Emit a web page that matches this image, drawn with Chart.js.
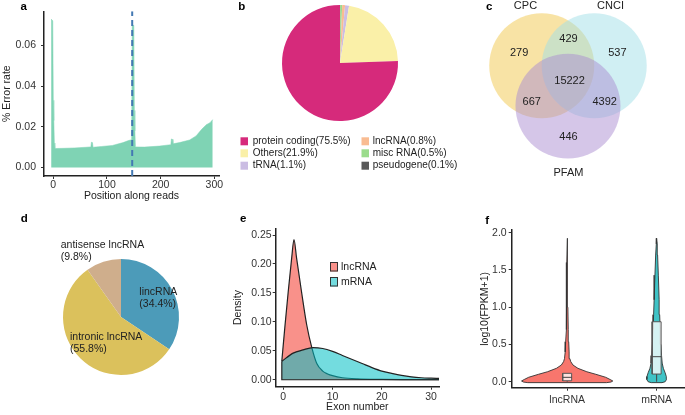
<!DOCTYPE html>
<html>
<head>
<meta charset="utf-8">
<script src="https://cdn.jsdelivr.net/npm/chart.js@4.4.1/dist/chart.umd.min.js"></script>
<style>
  body { margin: 0; width: 685px; height: 415px; position: relative; overflow: hidden; background: #fff; }
  canvas { position: absolute; }
</style>
</head>
<body>
<canvas id="chartA" width="230" height="205" style="left:0;top:0"></canvas>
<canvas id="chartB" width="230" height="205" style="left:230px;top:0"></canvas>
<canvas id="chartC" width="225" height="205" style="left:460px;top:0"></canvas>
<canvas id="chartD" width="230" height="210" style="left:0;top:205px"></canvas>
<canvas id="chartE" width="230" height="210" style="left:230px;top:205px"></canvas>
<canvas id="chartF" width="225" height="210" style="left:460px;top:205px"></canvas>
<script>
// ---- panel a: error rate along reads
const readPos = [-4, -1, 0, 1, 2, 3, 20, 40, 60, 70, 71, 73, 74, 90, 110, 130, 140, 146, 147, 150, 151, 152, 153, 170, 198, 219, 220, 222, 223, 235, 254, 266, 276, 285, 292, 297];
const errorRate = [0.0729, 0.072, 0.033, 0.023, 0.012, 0.0093, 0.0094, 0.0096, 0.0099, 0.0101, 0.0124, 0.0122, 0.0099, 0.0103, 0.0108, 0.0122, 0.0132, 0.0136, 0.0698, 0.0698, 0.028, 0.018, 0.0101, 0.0100, 0.0105, 0.0112, 0.014, 0.0138, 0.0116, 0.0122, 0.0135, 0.0155, 0.0186, 0.021, 0.022, 0.0235];
const readSplit = 147;
const ticksAx = [0, 100, 200, 300];
const ticksAy = [0, 0.02, 0.04, 0.06];

// ---- panel b: read types
const bTypes = ['protein coding', 'Others', 'tRNA', 'lncRNA', 'misc RNA', 'pseudogene'];
const bShares = [75.5, 21.9, 1.1, 0.8, 0.5, 0.1];
const bColors = ['#d62a7b', '#faf0a8', '#cbbde3', '#f9bc92', '#9bdc8c', '#595959'];

// ---- panel c: venn
const vennSets = ['CPC', 'CNCI', 'PFAM'];
const vennCx = [-0.5, 0.5, 0];
const vennCy = [0, 0, -0.77];
const vennR = 1;
const vennNameX = [-0.81, 0.81, 0.01];
const vennNameY = [1.14, 1.14, -2.04];
const vennCounts = [279, 429, 537, 15222, 667, 4392, 446];
const vennCountX = [-0.93, 0.01, 0.94, 0.03, -0.69, 0.70, 0.01];
const vennCountY = [0.25, 0.50, 0.25, -0.29, -0.69, -0.69, -1.36];

// ---- panel d: lncRNA classes
const dTypes = ['lincRNA', 'intronic lncRNA', 'antisense lncRNA'];
const dShares = [34.4, 55.8, 9.8];
const dColors = ['#4c9bb9', '#dbc15c', '#cfae8c'];

// ---- panel e: exon number density
const exonLnc = [-0.3, 0.35, 1.0, 1.7, 2.17, 2.7, 3.7, 4.75, 5.8, 6.8, 8, 9, 10, 12, 15, 20, 25, 31.6];
const densLnc = [0.032, 0.094, 0.152, 0.21, 0.242, 0.21, 0.152, 0.095, 0.055, 0.028, 0.015, 0.01, 0.007, 0.0035, 0.0015, 0.0005, 0.0002, 0.0001];
const exonMrna = [-0.3, 2, 4, 6, 8, 10, 12, 14, 16, 18, 20, 22, 24, 26, 28, 30, 31.6];
const densMrna = [0.032, 0.046, 0.0515, 0.0555, 0.054, 0.049, 0.042, 0.035, 0.028, 0.021, 0.015, 0.011, 0.0075, 0.005, 0.0035, 0.0028, 0.0024];
const ticksEx = [0, 10, 20, 30];
const ticksEy = [0, 0.05, 0.10, 0.15, 0.20, 0.25];

// ---- panel f: expression violins
const groups = ['lncRNA', 'mRNA'];
const lncLevel = [-0.012, -0.004, 0.01, 0.03, 0.06, 0.10, 0.134, 0.18, 0.224, 0.27, 0.31, 0.4, 0.537, 0.7, 1.0, 1.3, 1.6, 1.925];
const lncHalf = [0.44, 0.49, 0.51, 0.48, 0.43, 0.32, 0.22, 0.12, 0.065, 0.04, 0.03, 0.022, 0.017, 0.012, 0.008, 0.006, 0.004, 0];
const mrnaLevel = [-0.012, 0.0, 0.03, 0.07, 0.12, 0.18, 0.25, 0.35, 0.5, 0.7, 0.9, 1.1, 1.43, 1.7, 1.85, 1.925];
const mrnaHalf = [0.06, 0.095, 0.11, 0.108, 0.095, 0.075, 0.062, 0.055, 0.048, 0.04, 0.034, 0.028, 0.019, 0.011, 0.007, 0];
const boxQ1 = [0.013, 0.103];
const boxMed = [0.059, 0.336];
const boxQ3 = [0.113, 0.805];
const whiskLo = [0.0, 0.0];
const ticksFy = [0, 0.5, 1.0, 1.5, 2.0];

const FONT = '"Liberation Sans", Arial, Helvetica, sans-serif';
const RED = '#f8766d';
const TEAL = '#3fc3c6';
Chart.defaults.font.family = FONT;
Chart.defaults.font.size = 10.5;
Chart.defaults.color = '#333';
Chart.defaults.plugins.legend.display = false;
Chart.defaults.plugins.tooltip.enabled = false;

const base = { responsive: false, animation: false, devicePixelRatio: 1, events: [] };

function font(size, bold) {
  return (bold ? 'bold ' : '') + size + 'px ' + FONT;
}

// draws text and swatches; x/y are canvas pixels, or data values when inData is set
function makeNotes(items, boxes) {
  return {
    id: 'notes',
    afterDatasetsDraw(chart) {
      const ctx = chart.ctx;
      ctx.save();
      (boxes || []).forEach((b) => {
        ctx.fillStyle = b.color;
        ctx.fillRect(b.x, b.y, b.w, b.h);
        if (b.stroke) {
          ctx.strokeStyle = b.stroke;
          ctx.lineWidth = 1;
          ctx.strokeRect(b.x + 0.5, b.y + 0.5, b.w - 1, b.h - 1);
        }
      });
      items.forEach((t) => {
        let x = t.x, y = t.y;
        if (t.inData) {
          x = chart.scales.x.getPixelForValue(t.x);
          y = chart.scales.y.getPixelForValue(t.y);
        }
        ctx.font = t.font || font(10.5);
        ctx.fillStyle = t.color || '#222';
        ctx.textAlign = t.align || 'left';
        ctx.textBaseline = t.baseline || 'middle';
        ctx.fillText(t.text, x, y);
      });
      ctx.restore();
    }
  };
}

function axis(pos, min, max, ticks, fmt, o) {
  return {
    type: 'linear', position: pos, min: min, max: max,
    afterBuildTicks: (s) => { s.ticks = ticks.map((v) => ({ value: v })); },
    afterFit: (s) => { if (pos === 'left') s.width = o.size; else s.height = o.size; },
    grid: { drawOnChartArea: false, drawTicks: true, tickLength: 3, color: '#333', lineWidth: 1 },
    border: { display: true, color: '#222', width: 1.5 },
    ticks: { padding: o.pad, autoSkip: false, maxRotation: 0, color: '#333', font: { size: 10.5 }, callback: (v) => fmt(v) },
    title: o.title
      ? { display: true, text: o.title, color: '#222', font: { size: 10.5, lineHeight: 1 }, padding: { top: o.titlePad, bottom: o.titlePad } }
      : { display: false }
  };
}

function pts(xs, ys) {
  return xs.map((x, i) => ({ x: x, y: ys[i] }));
}

// ---------- a
new Chart(document.getElementById('chartA'), {
  type: 'line',
  data: {
    datasets: [
      { data: [{ x: readSplit, y: -0.0042 }, { x: readSplit, y: 0.0767 }], borderColor: '#4479b3', borderWidth: 2, borderDash: [6, 4], pointRadius: 0, fill: false },
      { data: pts(readPos, errorRate), fill: 'origin', backgroundColor: '#7fd3b4', borderColor: '#7fd3b4', borderWidth: 0.5, pointRadius: 0, tension: 0 }
    ]
  },
  options: Object.assign({}, base, {
    layout: { padding: { left: 0, top: 2, right: 11, bottom: 0 } },
    scales: {
      x: axis('bottom', -17.3, 308.7, ticksAx, (v) => String(v), { size: 29, pad: 0, title: 'Position along reads', titlePad: 3.5 }),
      y: axis('left', -0.0042, 0.0767, ticksAy, (v) => v.toFixed(2), { size: 44, pad: 5, title: '% Error rate', titlePad: 1.5 })
    }
  }),
  plugins: [makeNotes([{ text: 'a', x: 20.5, y: 10, baseline: 'alphabetic', font: font(11.5, true), color: '#000' }])]
});

// ---------- b
const bItems = [{ text: 'b', x: 8.3, y: 9.5, baseline: 'alphabetic', font: font(11.5, true), color: '#000' }];
const bBoxes = [];
bTypes.forEach((name, i) => {
  const col = i < 3 ? 0 : 1;
  const cy = [141.3, 153.3, 165.7][i % 3];
  bBoxes.push({ x: col ? 131.5 : 10.5, y: cy - 4, w: 7.5, h: 8, color: bColors[i] });
  bItems.push({ text: name + '(' + bShares[i] + '%)', x: col ? 142.7 : 22.7, y: cy, font: font(10) });
});
new Chart(document.getElementById('chartB'), {
  type: 'pie',
  data: {
    labels: bTypes.slice().reverse(),
    datasets: [{ data: bShares.slice().reverse(), backgroundColor: bColors.slice().reverse(), borderWidth: 0, hoverOffset: 0 }]
  },
  options: Object.assign({}, base, { layout: { padding: { left: 52, right: 62, top: 5, bottom: 84 } } }),
  plugins: [makeNotes(bItems, bBoxes)]
});

// ---------- c
const vennColors = ['rgba(242,200,75,0.5)', 'rgba(161,223,231,0.5)', 'rgba(171,141,209,0.5)'];
const cItems = [{ text: 'c', x: 26, y: 9.5, baseline: 'alphabetic', font: font(11.5, true), color: '#000' }];
vennSets.forEach((name, i) => cItems.push({ text: name, x: vennNameX[i], y: vennNameY[i], inData: true, align: 'center', font: font(11) }));
vennCounts.forEach((n, i) => cItems.push({ text: String(n), x: vennCountX[i], y: vennCountY[i], inData: true, align: 'center', font: font(11) }));
new Chart(document.getElementById('chartC'), {
  type: 'scatter',
  data: {
    datasets: [{
      data: pts(vennCx, vennCy),
      pointBackgroundColor: vennColors,
      pointBorderWidth: 0,
      pointRadius: (ctx) => {
        const s = ctx.chart.scales.x;
        return s.getPixelForValue(vennR) - s.getPixelForValue(0);
      }
    }]
  },
  options: Object.assign({}, base, {
    layout: { padding: 0 },
    scales: {
      x: { type: 'linear', display: false, min: -2.057, max: 2.229 },
      y: { type: 'linear', display: false, min: -2.653, max: 1.251 }
    }
  }),
  plugins: [makeNotes(cItems)]
});

// ---------- d
const dItems = [
  { text: 'd', x: 20.7, y: 16.7, baseline: 'alphabetic', font: font(11.5, true), color: '#000' },
  { text: dTypes[0], x: 139.3, y: 87.3 },
  { text: '(' + dShares[0] + '%)', x: 139.3, y: 99 },
  { text: dTypes[1], x: 70, y: 131.7 },
  { text: '(' + dShares[1] + '%)', x: 70, y: 144.5 },
  { text: dTypes[2], x: 60.7, y: 40 },
  { text: '(' + dShares[2] + '%)', x: 60.7, y: 52.3 }
];
new Chart(document.getElementById('chartD'), {
  type: 'pie',
  data: { labels: dTypes, datasets: [{ data: dShares, backgroundColor: dColors, borderWidth: 0, hoverOffset: 0 }] },
  options: Object.assign({}, base, { layout: { padding: { left: 63, right: 51, top: 54, bottom: 40 } } }),
  plugins: [makeNotes(dItems)]
});

// ---------- e
const eItems = [
  { text: 'e', x: 10, y: 16.7, baseline: 'alphabetic', font: font(11.5, true), color: '#000' },
  { text: groups[0], x: 111, y: 61.7 },
  { text: groups[1], x: 111, y: 76.7 }
];
const eBoxes = [
  { x: 100, y: 57, w: 8, h: 9.5, color: 'rgba(248,118,109,0.8)', stroke: '#333' },
  { x: 100, y: 72, w: 8, h: 9.5, color: 'rgba(0,191,196,0.55)', stroke: '#333' }
];
new Chart(document.getElementById('chartE'), {
  type: 'line',
  data: {
    datasets: [
      { data: [{ x: 31.6, y: 0 }, { x: -0.3, y: 0 }, { x: -0.3, y: densMrna[0] }], borderColor: '#222', borderWidth: 1.2, pointRadius: 0, fill: false, tension: 0 },
      { data: pts(exonMrna, densMrna), fill: 'origin', backgroundColor: 'rgba(0,191,196,0.55)', borderColor: '#222', borderWidth: 1.2, pointRadius: 0, cubicInterpolationMode: 'monotone' },
      { data: pts(exonLnc, densLnc), fill: 'origin', backgroundColor: 'rgba(248,118,109,0.8)', borderColor: '#222', borderWidth: 1.2, pointRadius: 0, cubicInterpolationMode: 'monotone' }
    ]
  },
  options: Object.assign({}, base, {
    layout: { padding: { left: 0, top: 23.3, right: 21, bottom: 0 } },
    scales: {
      x: axis('bottom', -1.54, 31.6, ticksEx, (v) => String(v), { size: 28.3, pad: 1.5, title: 'Exon number', titlePad: 3 }),
      y: axis('left', -0.012, 0.2616, ticksEy, (v) => v.toFixed(2), { size: 45.7, pad: 1, title: 'Density', titlePad: 3 })
    }
  }),
  plugins: [makeNotes(eItems, eBoxes)]
});

// ---------- f
function violin(center, levels, half) {
  const right = levels.map((y, i) => ({ x: center + half[i], y: y }));
  const left = levels.map((y, i) => ({ x: center - half[i], y: y })).reverse();
  const shape = right.concat(left);
  shape.push(right[0]);
  return shape;
}
const boxHalf = 0.05;
const fSets = [];
groups.forEach((g, i) => {
  const c = i + 1;
  fSets.push({ data: [{ x: c - boxHalf, y: boxMed[i] }, { x: c + boxHalf, y: boxMed[i] }], borderColor: '#444', borderWidth: 1, pointRadius: 0, fill: false });
  fSets.push({ data: [{ x: c - boxHalf, y: boxQ1[i] }, { x: c + boxHalf, y: boxQ1[i] }, { x: c + boxHalf, y: boxQ3[i] }, { x: c - boxHalf, y: boxQ3[i] }, { x: c - boxHalf, y: boxQ1[i] }],
    fill: 'shape', backgroundColor: 'rgba(255,255,255,0.78)', borderColor: '#555', borderWidth: 1, pointRadius: 0 });
  fSets.push({ data: [{ x: c, y: whiskLo[i] }, { x: c, y: boxQ1[i] }], borderColor: '#444', borderWidth: 1, pointRadius: 0, fill: false });
});
fSets.push({ data: violin(1, lncLevel, lncHalf), fill: 'shape', backgroundColor: RED, borderColor: '#333', borderWidth: 0.9, pointRadius: 0, tension: 0 });
fSets.push({ data: violin(2, mrnaLevel, mrnaHalf), fill: 'shape', backgroundColor: TEAL, borderColor: '#333', borderWidth: 0.9, pointRadius: 0, tension: 0 });
new Chart(document.getElementById('chartF'), {
  type: 'line',
  data: { datasets: fSets },
  options: Object.assign({}, base, {
    layout: { padding: { left: 0, top: 25, right: 0, bottom: 0 } },
    scales: {
      x: axis('bottom', 0.38, 2.317, [1, 2], (v) => groups[Math.round(v) - 1], { size: 27.3, pad: 3 }),
      y: axis('left', -0.08, 2.036, ticksFy, (v) => v.toFixed(1), { size: 51.7, pad: 2, title: 'log10(FPKM+1)', titlePad: 19.5 })
    }
  }),
  plugins: [makeNotes([{ text: 'f', x: 25.3, y: 19.3, baseline: 'alphabetic', font: font(11.5, true), color: '#000' }])]
});
</script>
</body>
</html>
